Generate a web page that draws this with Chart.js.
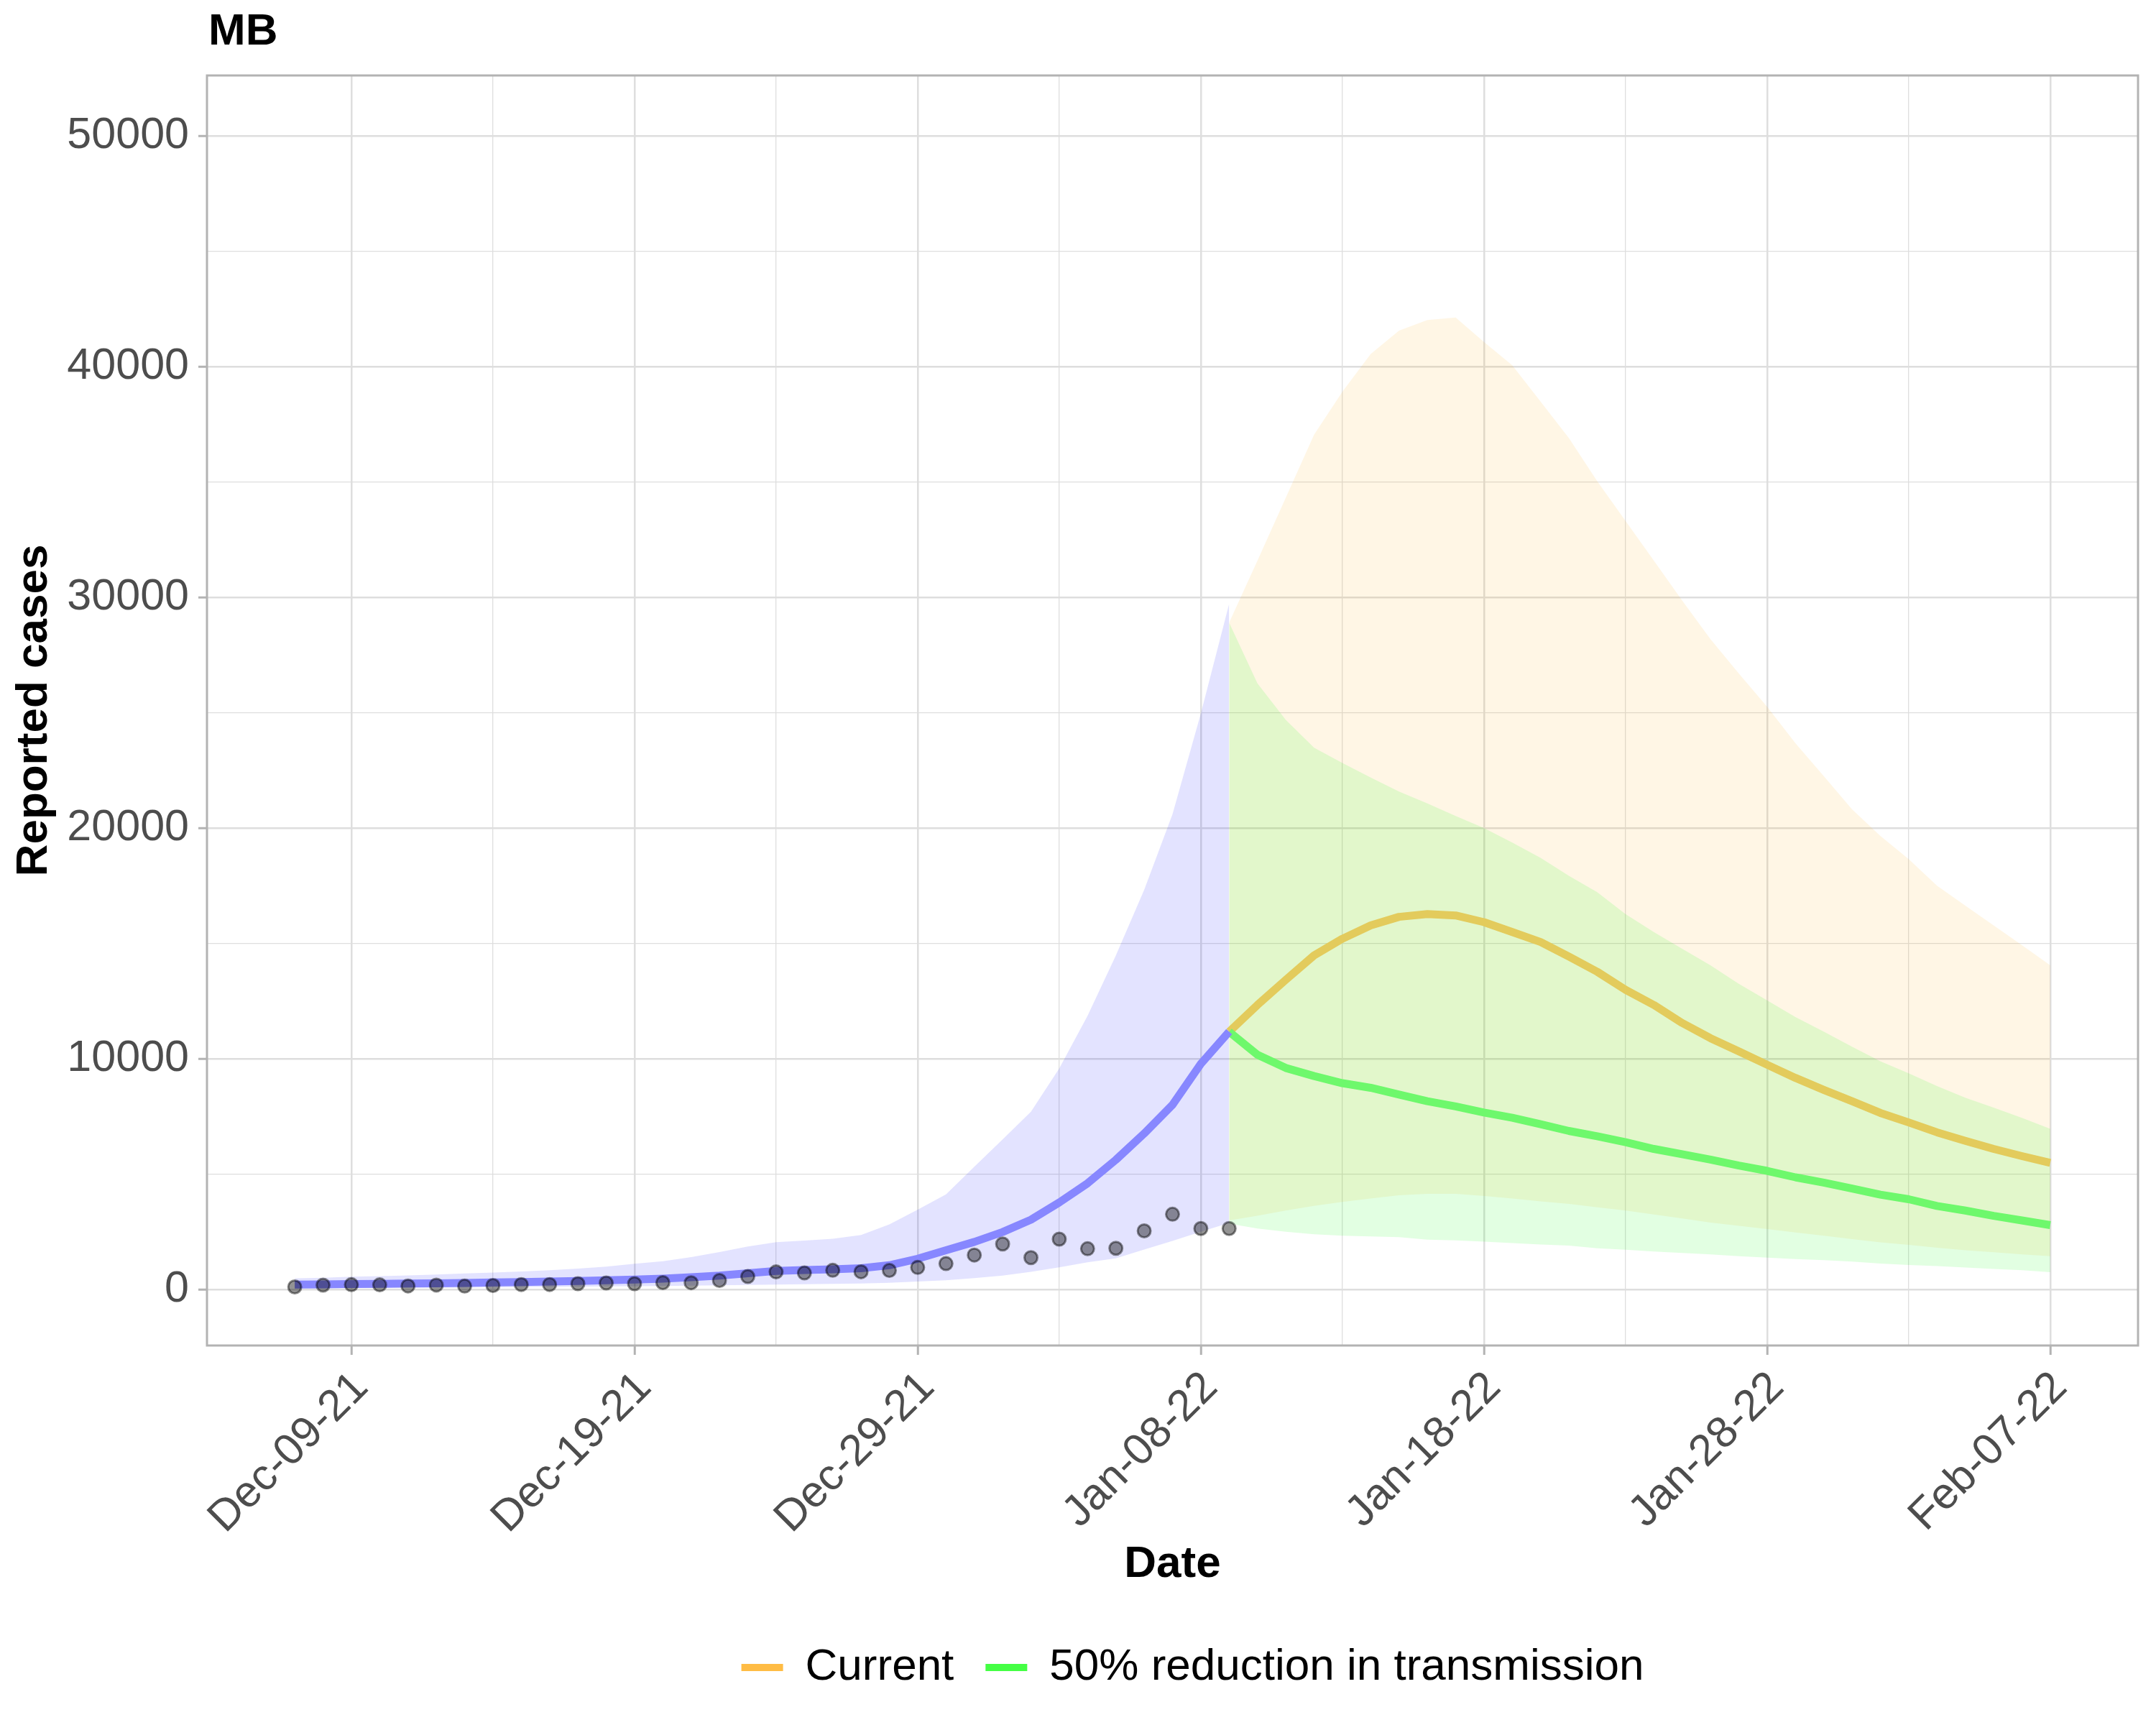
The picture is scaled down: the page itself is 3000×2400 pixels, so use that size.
<!DOCTYPE html>
<html lang="en">
<head>
<meta charset="UTF-8" />
<title>MB - Reported cases</title>
<script src="https://cdn.jsdelivr.net/npm/chart.js"></script>
<style>
  html, body { margin: 0; padding: 0; background: #ffffff; }
  #wrap { width: 3000px; height: 2400px; }
</style>
</head>
<body>
<div id="wrap"><canvas id="chart" width="3000" height="2400"></canvas></div>
<script>
// x values are days counted from Dec-07-21
const FIT_START = 0;    // Dec-07-21
const PROJ_START = 33;  // Jan-09-22

// reported cases (points), Dec-07-21 .. Jan-09-22
const observed = [110, 187, 207, 200, 150, 190, 145, 170, 212, 212, 250, 280, 250, 295, 290, 390, 560,
  760, 715, 830, 765, 825, 955, 1120, 1490, 1970, 1380, 2180, 1765, 1785, 2540, 3260, 2640, 2640];

// model fit up to Jan-09-22
const fitMedian = [210, 220, 235, 245, 255, 265, 280, 300, 320, 340, 365, 395, 430, 470, 530, 600, 700,
  800, 840, 870, 920, 1050, 1330, 1700, 2060, 2490, 3020, 3770, 4600, 5620, 6760, 8000, 9780, 11170];
const fitLower = [50, 55, 60, 65, 70, 75, 80, 90, 100, 110, 120, 130, 140, 150, 165, 180, 195,
  210, 225, 240, 260, 290, 340, 400, 490, 600, 760, 960, 1180, 1350, 1730, 2100, 2500, 2880];
const fitUpper = [480, 510, 550, 580, 610, 650, 690, 730, 780, 830, 900, 990, 1110, 1220, 1400, 1620, 1860,
  2050, 2120, 2200, 2360, 2820, 3460, 4120, 5320, 6500, 7700, 9580, 11860, 14480, 17320, 20600, 24960, 29720];

// projections Jan-09-22 .. Feb-07-22
const currentMedian = [11170, 12330, 13420, 14480, 15200, 15780, 16150, 16270, 16210, 15920, 15490, 15060,
  14430, 13770, 12990, 12330, 11550, 10890, 10320, 9740, 9170, 8650, 8160, 7650, 7240, 6810, 6440, 6090, 5780, 5490];
const currentLower = [2990, 3190, 3420, 3620, 3790, 3940, 4080, 4140, 4140, 4050, 3940, 3820, 3710, 3560,
  3420, 3250, 3080, 2900, 2760, 2620, 2470, 2330, 2180, 2040, 1930, 1810, 1700, 1610, 1520, 1440];
const currentUpper = [28900, 31590, 34320, 37050, 38910, 40550, 41560, 42020, 42130, 41070, 40060, 38480,
  36900, 35030, 33310, 31590, 29860, 28190, 26700, 25260, 23680, 22250, 20810, 19660, 18650, 17500, 16640, 15780, 14920, 14050];

const halfMedian = [11170, 10170, 9600, 9250, 8940, 8740, 8450, 8160, 7930, 7670, 7440, 7160, 6870, 6640,
  6380, 6090, 5860, 5630, 5370, 5140, 4860, 4630, 4370, 4110, 3910, 3620, 3420, 3190, 2990, 2790];
const halfLower = [2850, 2640, 2500, 2390, 2330, 2300, 2270, 2160, 2130, 2070, 2010, 1950, 1900, 1780,
  1720, 1640, 1580, 1520, 1440, 1380, 1320, 1270, 1210, 1120, 1060, 1010, 950, 890, 830, 750];
const halfUpper = [28900, 26270, 24690, 23480, 22820, 22190, 21580, 21070, 20520, 20000, 19370, 18710,
  17930, 17220, 16270, 15490, 14770, 14050, 13250, 12530, 11810, 11180, 10520, 9890, 9370, 8820, 8310, 7880, 7440, 6960];

// axes
const xTickDays = [2, 12, 22, 32, 42, 52, 62];
const xTickLabels = ['Dec-09-21', 'Dec-19-21', 'Dec-29-21', 'Jan-08-22', 'Jan-18-22', 'Jan-28-22', 'Feb-07-22'];
const xMinorDays = [7, 17, 27, 37, 47, 57];
const yTicks = [0, 10000, 20000, 30000, 40000, 50000];
const yMinorTicks = [5000, 15000, 25000, 35000, 45000];

const legendNames = ['Current', '50% reduction in transmission'];
const legendColors = ['#FFBC44', '#44FF44'];

const FONT = '"Liberation Sans", Arial, Helvetica, sans-serif';
Chart.defaults.font.family = FONT;

const toPoints = (vals, start) => vals.map((y, i) => ({ x: start + i, y }));

const band = (label, vals, start, color, order, fill) => ({
  label, data: toPoints(vals, start), borderWidth: 0, pointRadius: 0,
  backgroundColor: color, fill, order, tension: 0
});
const line = (label, vals, start, color, order) => ({
  label, data: toPoints(vals, start), borderColor: color, borderWidth: 11,
  pointRadius: 0, fill: false, order, tension: 0, borderJoinStyle: 'round'
});

const datasets = [
  band('fit upper', fitUpper, FIT_START, 'rgba(0,0,255,0.11)', 10, '+1'),
  band('fit lower', fitLower, FIT_START, 'rgba(0,0,255,0.11)', 10, false),
  band('current upper', currentUpper, PROJ_START, 'rgba(255,165,0,0.1)', 9, '+1'),
  band('current lower', currentLower, PROJ_START, 'rgba(255,165,0,0.1)', 9, false),
  band('half upper', halfUpper, PROJ_START, 'rgba(0,255,0,0.115)', 8, '+1'),
  band('half lower', halfLower, PROJ_START, 'rgba(0,255,0,0.115)', 8, false),
  line('Current', currentMedian, PROJ_START, '#E3CB5C', 6),
  line('50% reduction in transmission', halfMedian, PROJ_START, '#6EF86C', 5),
  line('fit', fitMedian, FIT_START, '#8787FF', 4),
  {
    label: 'observed', data: toPoints(observed, FIT_START), showLine: false, order: 1,
    pointRadius: 9, pointBorderWidth: 3,
    pointBackgroundColor: 'rgba(0,0,0,0.42)', pointBorderColor: 'rgba(0,0,0,0.45)'
  }
];

const isXMajor = v => xTickDays.includes(v);
const isYMajor = v => yTicks.includes(v);

// grey frame round the panel, title and legend placed like the original
const panelFrame = {
  id: 'panelFrame',
  afterLayout(chart) {
    const a = chart.chartArea;
    chart.titleBlock.left = a.left + 2;
    const lg = chart.legend;
    const dx = (a.left + a.right) / 2 + 28 - (lg.left + lg.right) / 2;
    lg.left += dx;
    lg.right += dx;
  },
  afterDatasetsDraw(chart) {
    const { ctx, chartArea: a } = chart;
    ctx.save();
    ctx.strokeStyle = '#B3B3B3';
    ctx.lineWidth = 3;
    ctx.strokeRect(a.left, a.top, a.right - a.left, a.bottom - a.top);
    ctx.restore();
  }
};

new Chart(document.getElementById('chart'), {
  type: 'line',
  data: { datasets },
  plugins: [panelFrame],
  options: {
    responsive: false,
    devicePixelRatio: 1,
    animation: false,
    layout: { padding: { top: 0, right: 25, bottom: 39, left: 0 } },
    plugins: {
      tooltip: { enabled: false },
      title: {
        display: true, text: 'MB', align: 'start', color: '#000',
        font: { size: 62, weight: 'bold', family: FONT },
        padding: { top: 8, bottom: 22.6 }
      },
      legend: {
        position: 'bottom',
        labels: {
          color: '#000', font: { size: 62, family: FONT },
          boxWidth: 58, boxHeight: 10, padding: 44,
          generateLabels: () => legendNames.map((text, i) => ({
            text, fillStyle: legendColors[i], strokeStyle: legendColors[i], lineWidth: 0, hidden: false
          }))
        }
      }
    },
    scales: {
      x: {
        type: 'linear', min: -3.1, max: 65.1,
        afterBuildTicks: s => { s.ticks = [...xTickDays, ...xMinorDays].sort((p, q) => p - q).map(value => ({ value })); },
        afterFit: s => { s.height = 373; },
        ticks: {
          autoSkip: false, maxRotation: 45, minRotation: 45, color: '#4D4D4D',
          font: { size: 61 }, padding: 10, labelOffset: 14,
          callback: v => isXMajor(v) ? xTickLabels[xTickDays.indexOf(v)] : ''
        },
        grid: {
          color: '#DEDEDE', lineWidth: c => isXMajor(c.tick.value) ? 2.5 : 1.3,
          tickLength: 13, tickWidth: 3,
          tickColor: c => isXMajor(c.tick.value) ? '#B3B3B3' : 'rgba(0,0,0,0)'
        },
        border: { display: false },
        title: {
          display: true, text: 'Date', color: '#000',
          font: { size: 62, weight: 'bold' }, padding: { top: 0, bottom: 30.8 }
        }
      },
      y: {
        type: 'linear', min: -2430, max: 52620,
        afterBuildTicks: s => { s.ticks = [...yTicks, ...yMinorTicks].sort((p, q) => p - q).map(value => ({ value })); },
        afterFit: s => { s.width = 288; },
        ticks: {
          color: '#4D4D4D', font: { size: 61 }, padding: 13,
          callback: v => isYMajor(v) ? String(v) : ''
        },
        grid: {
          color: '#DEDEDE', lineWidth: c => isYMajor(c.tick.value) ? 2.5 : 1.3,
          tickLength: 12, tickWidth: 3,
          tickColor: c => isYMajor(c.tick.value) ? '#B3B3B3' : 'rgba(0,0,0,0)'
        },
        border: { display: false },
        title: {
          display: true, text: 'Reported cases', color: '#000',
          font: { size: 62, weight: 'bold' }, padding: { top: 11, bottom: 0 }
        }
      }
    }
  }
});
</script>
</body>
</html>
